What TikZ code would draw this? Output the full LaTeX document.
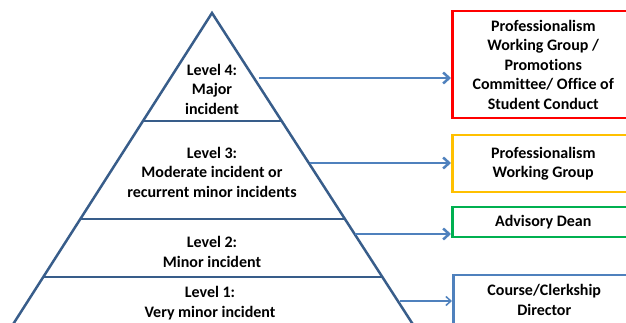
\documentclass[tikz,border=0pt]{standalone}
\usepackage{fontspec}
\setmainfont{Carlito}[Ligatures=NoCommon]
\usetikzlibrary{positioning,calc,arrows.meta}
\definecolor{pyrBlue}{RGB}{56,93,138}
\definecolor{arrowBlue}{RGB}{79,129,189}
\definecolor{lvRed}{RGB}{255,0,0}
\definecolor{lvOrange}{RGB}{255,192,0}
\definecolor{lvGreen}{RGB}{0,176,80}

\begin{document}
\begin{tikzpicture}[x=1pt,y=-1pt,every text node part/.style={align=center}]
\tikzset{myFont/.style={font=\fontsize{16}{19.5}\selectfont\bfseries}}
\tikzset{myBox/.style={draw,line width=2.5pt,myFont,minimum width=182pt,anchor=west,inner sep=2pt}}
\tikzset{myArrow/.style={arrowBlue,line width=2.5pt,-{Straight Barb[length=6pt,width=11pt]}}}
\tikzset{myLine/.style={pyrBlue,line width=2.5pt}}

\useasboundingbox (0,0) rectangle (626,323);
\clip (0,0) rectangle (626,323);

% pyramid
\coordinate (apex) at (212,13);
\coordinate (bl) at (3,340);
\coordinate (br) at (423,340);
\draw[myLine,line join=miter] (bl) -- (apex) -- (br);
\draw[myLine] ($(apex)!0.330!(bl)$) -- ($(apex)!0.330!(br)$);
\draw[myLine] ($(apex)!0.630!(bl)$) -- ($(apex)!0.630!(br)$);
\draw[myLine] ($(apex)!0.807!(bl)$) -- ($(apex)!0.807!(br)$);

\node[myFont] (lv4) at (212,89) {Level 4:\\Major\\incident};
\node[myFont] (lv3) at (212,172) {Level 3:\\Moderate incident or\\recurrent minor incidents};
\node[myFont] (lv2) at (212,252) {Level 2:\\Minor incident};
\node[myFont] (lv1) at (210,303) {Level 1:\\Very minor incident};

% who handles it
\node[myBox,draw=lvRed,minimum height=107pt] (pwg4) at (451,64.5) {Professionalism\\Working Group /\\Promotions\\Committee/ Office of\\Student Conduct};
\node[myBox,draw=lvOrange,minimum height=57pt] (pwg3) at (451,163.5) {Professionalism\\Working Group};
\node[myBox,draw=lvGreen,minimum height=30pt] (dean) at (451,222) {Advisory Dean};
\node[myBox,draw=arrowBlue,minimum height=50pt] (ccd) at (452,300) {Course/Clerkship\\Director};

\coordinate (s4) at (259,78);
\coordinate (s3) at (310,163);
\coordinate (s2) at (355,234);
\coordinate (s1) at (400,301);
\draw[myArrow] (s4) -- (s4 -| pwg4.west);
\draw[myArrow] (s3) -- (s3 -| pwg3.west);
\draw[myArrow] (s2) -- (s2 -| dean.west);
\draw[myArrow,line width=1.5pt,-{Straight Barb[length=5pt,width=9pt]}] (s1) -- (s1 -| ccd.west);
\end{tikzpicture}
\end{document}
